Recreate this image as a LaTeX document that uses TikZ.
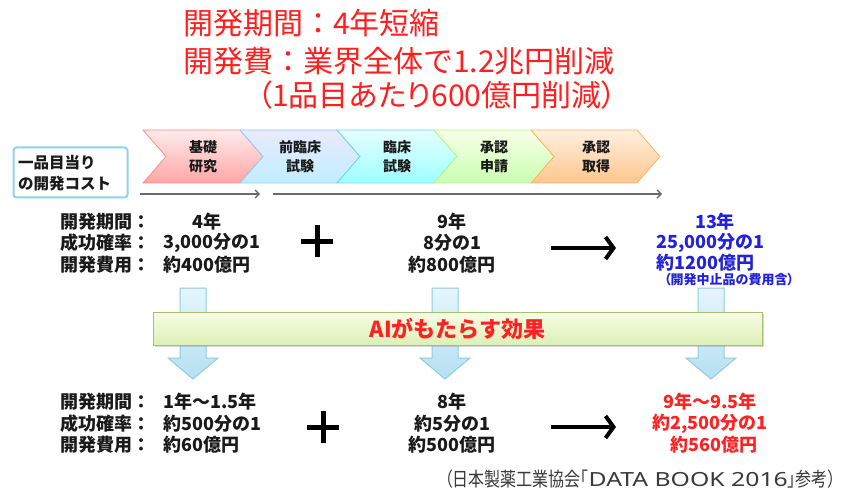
\documentclass[tikz,border=0pt]{standalone}
\usepackage{fontspec}
\usetikzlibrary{arrows.meta,shadows}
\setmainfont{Noto Sans CJK JP}
\newfontfamily\jp{Noto Sans CJK JP}
\newfontfamily\jpp[RawFeature=+palt]{Noto Sans CJK JP}
\newfontfamily\jpc[FakeStretch=0.82,RawFeature=+palt]{Noto Sans CJK JP}
\newfontfamily\latn{Noto Sans}
\definecolor{titlered}{HTML}{FF1F1F}
\definecolor{txt}{HTML}{1A1A1A}
\definecolor{valblue}{HTML}{2222DD}
\definecolor{valred}{HTML}{FF2222}
\definecolor{boxcyan}{HTML}{8FD3E6}
\definecolor{arrgray}{HTML}{6A6A6A}
\definecolor{cite}{HTML}{3A3A3A}
\definecolor{dntop}{HTML}{E6F5FB}
\definecolor{dnbot}{HTML}{B5E0F2}
\definecolor{dnborder}{HTML}{8FCDE3}
\definecolor{bartop}{HTML}{F8FCE6}
\definecolor{barbot}{HTML}{DDF0B6}
\definecolor{barborder}{HTML}{A3C46A}
\tikzset{
  ttl/.style={inner sep=0pt, anchor=west, text=titlered, font=\jp\fontsize{30}{30}\selectfont},
  dat/.style={inner sep=0pt, text=txt, font=\jp\bfseries\fontsize{18}{18}\selectfont},
  chevtxt/.style={inner sep=0pt, align=center, text=txt, font=\jp\bfseries\fontsize{14}{19}\selectfont},
  chevron/.style={line width=0.8pt},
  grayarrow/.style={draw=arrgray, line width=1.3pt, -{Straight Barb[length=4pt,width=8pt]}},
  blackarrow/.style={draw=black, line width=4pt, -{Straight Barb[length=8pt,width=22pt]}},
  plusline/.style={draw=black, line width=5pt},
  downarrow/.style={top color=dntop, bottom color=dnbot, draw=dnborder, line width=1pt},
  bar/.style={draw=barborder, line width=1pt, top color=bartop, bottom color=barbot,
     minimum width=609pt, minimum height=33pt, inner sep=0pt, text=valred,
     font=\jp\bfseries\fontsize{22}{22}\selectfont,
     drop shadow={shadow xshift=2pt, shadow yshift=-2pt, opacity=0.3}},
}
\begin{document}
\begin{tikzpicture}[x=1pt,y=-1pt]
\useasboundingbox (0,0) rectangle (848,497);

% title
\node[ttl] (t1) at (183,23) {開発期間：4年短縮};
\node[ttl] (t2) at (183,61) {開発費：業界全体で1.2兆円削減};
\node[ttl, font=\jpp\fontsize{30}{30}\selectfont] (t3) at (257,95) {（1品目あたり600億円削減）};

% chevrons
\shade[chevron, top color=red!8!white, bottom color=red!35!white, draw=red!45!white]
  (143,130) -- (240,130) -- (263,156.5) -- (240,183) -- (143,183) -- (166,156.5) -- cycle;
\shade[chevron, top color=blue!8!white, bottom color=blue!28!cyan!25!white, draw=blue!45!cyan!45!white]
  (240,130) -- (337,130) -- (360,156.5) -- (337,183) -- (240,183) -- (263,156.5) -- cycle;
\shade[chevron, top color=cyan!10!white, bottom color=cyan!38!white, draw=cyan!55!white]
  (337,130) -- (434,130) -- (457,156.5) -- (434,183) -- (337,183) -- (360,156.5) -- cycle;
\shade[chevron, top color=lime!10!white, bottom color=lime!40!green!30!white, draw=lime!50!green!50!white]
  (434,130) -- (531,130) -- (554,156.5) -- (531,183) -- (434,183) -- (457,156.5) -- cycle;
\shade[chevron, top color=orange!12!white, bottom color=orange!45!white, draw=orange!60!white]
  (531,130) -- (637,130) -- (660,156.5) -- (637,183) -- (531,183) -- (554,156.5) -- cycle;

\node[chevtxt] (c1) at (203,157) {基礎\\研究};
\node[chevtxt] (c2) at (300,157) {前臨床\\試験};
\node[chevtxt] (c3) at (397,157) {臨床\\試験};
\node[chevtxt] (c4) at (494,157) {承認\\申請};
\node[chevtxt] (c5) at (596,157) {承認\\取得};

% left box
\node[draw=boxcyan, line width=2pt, rounded corners=3pt, minimum width=114pt, minimum height=50pt, inner sep=0pt] (costbox) at (70.5,172.5) {};
\node[inner sep=0pt, anchor=west, align=left, text=txt, font=\jp\bfseries\fontsize{15.5}{20.5}\selectfont] (costtxt) at (18,173) {一品目当り\\の開発コスト};

% gray timeline arrows
\coordinate (g1a) at (140,194); \coordinate (g1b) at (260,194);
\coordinate (g2a) at (273,194); \coordinate (g2b) at (662,194);
\draw[grayarrow] (g1a) -- (g1b);
\draw[grayarrow] (g2a) -- (g2b);

% upper data
\node[dat, anchor=west] (l1) at (60,222) {開発期間：};
\node[dat, anchor=west] (l2) at (60,243) {成功確率：};
\node[dat, anchor=west] (l3) at (60,265) {開発費用：};
\node[dat] (v1) at (207,222) {4年};
\node[dat, anchor=west] (v2) at (163,243) {3,000分の1};
\node[dat, anchor=west] (v3) at (163,265) {約400億円};
\coordinate (plusU) at (317,241);
\draw[plusline] ([xshift=-16pt]plusU) -- ([xshift=16pt]plusU);
\draw[plusline] ([yshift=-16pt]plusU) -- ([yshift=16pt]plusU);
\node[dat] (m1) at (452,222) {9年};
\node[dat] (m2) at (452,243) {8分の1};
\node[dat] (m3) at (452,265) {約800億円};
\coordinate (aUa) at (551,248); \coordinate (aUb) at (616,248);
\draw[blackarrow] (aUa) -- (aUb);
\node[dat, text=valblue] (b1) at (715,222) {13年};
\node[dat, text=valblue, anchor=west] (b2) at (656,243) {25,000分の1};
\node[dat, text=valblue, anchor=west] (b3) at (656,263) {約1200億円};
\node[dat, text=valblue, anchor=west, font=\jpp\bfseries\fontsize{13}{13}\selectfont] (b4) at (664,280) {（開発中止品の費用含）};

% down arrows
\foreach \c/\n in {193/da1,445/da2,711/da3}{
  \shade[downarrow] (\c-13,288) -- (\c+13,288) -- (\c+13,358) -- (\c+25,358) -- (\c,379) -- (\c-25,358) -- (\c-13,358) -- cycle;
}

% AI bar
\node[bar] (ai) at (457.5,328.5) {AIがもたらす効果};

% lower data
\node[dat, anchor=west] (k1) at (60,402) {開発期間：};
\node[dat, anchor=west] (k2) at (60,424) {成功確率：};
\node[dat, anchor=west] (k3) at (60,445) {開発費用：};
\node[dat, anchor=west] (w1) at (163,402) {1年～1.5年};
\node[dat, anchor=west] (w2) at (163,424) {約500分の1};
\node[dat, anchor=west] (w3) at (163,445) {約60億円};
\coordinate (plusL) at (323,427);
\draw[plusline] ([xshift=-16pt]plusL) -- ([xshift=16pt]plusL);
\draw[plusline] ([yshift=-16pt]plusL) -- ([yshift=16pt]plusL);
\node[dat] (n1) at (452,402) {8年};
\node[dat] (n2) at (452,424) {約5分の1};
\node[dat] (n3) at (452,445) {約500億円};
\coordinate (aLa) at (551,427); \coordinate (aLb) at (616,427);
\draw[blackarrow] (aLa) -- (aLb);
\node[dat, text=valred] (r1) at (710,402) {9年～9.5年};
\node[dat, text=valred] (r2) at (710,424) {約2,500分の1};
\node[dat, text=valred] (r3) at (714,445) {約560億円};

% citation
\node[inner sep=0pt, anchor=east, text=cite, font=\jpc\fontsize{19.5}{19.5}\selectfont] (cite) at (836,479)
  {（日本製薬工業協会「{\latn\scalebox{1.27}[1]{DATA BOOK 2016}}」参考）};
\end{tikzpicture}
\end{document}
